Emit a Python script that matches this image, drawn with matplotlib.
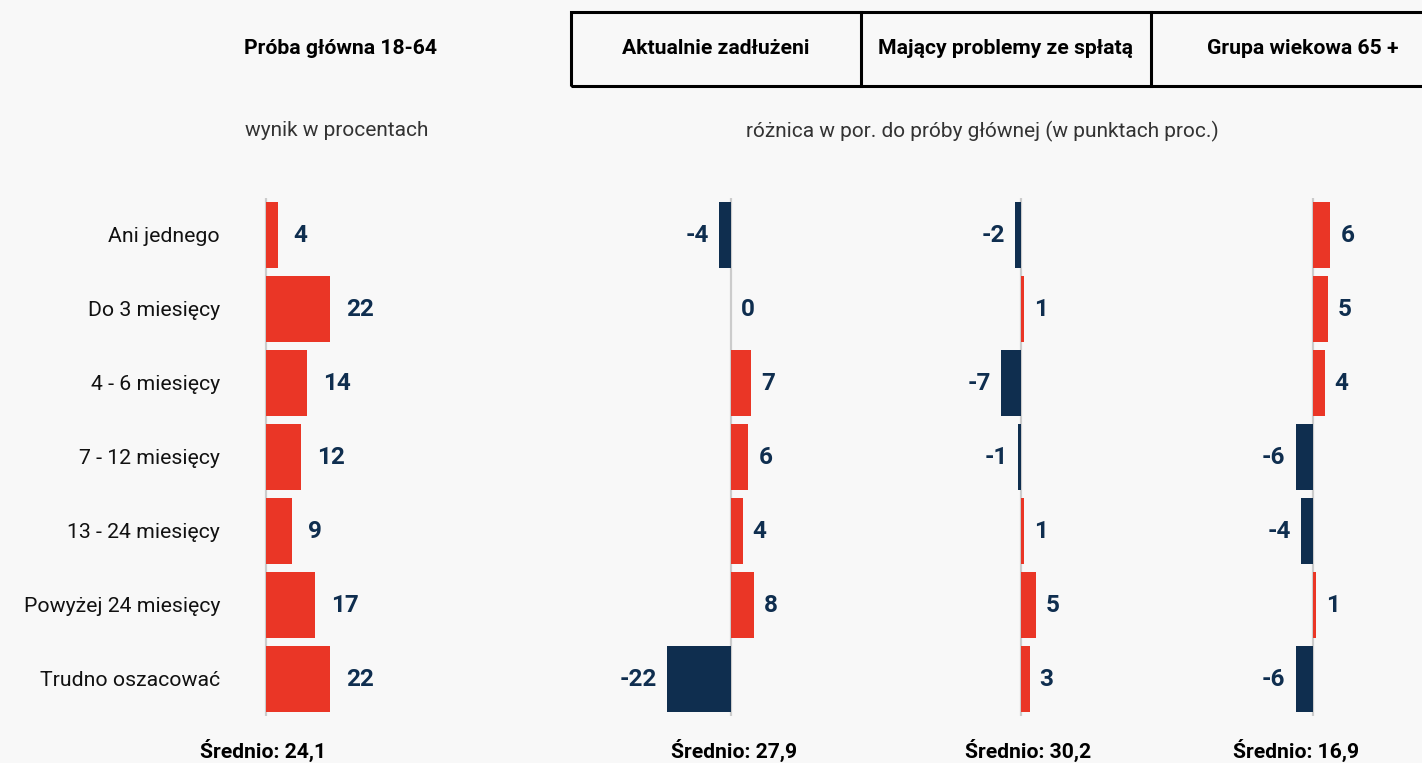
import numpy as np
import matplotlib.pyplot as plt
from matplotlib.patches import Rectangle
from matplotlib.lines import Line2D

plt.rcParams['font.family'] = ['Roboto', 'DejaVu Sans']

# Data
categories = ['Ani jednego', 'Do 3 miesięcy', '4 - 6 miesięcy', '7 - 12 miesięcy',
              '13 - 24 miesięcy', 'Powyżej 24 miesięcy', 'Trudno oszacować']
main_pct = [4, 22, 14, 12, 9, 17, 22]
diff_zadluzeni = [-4, 0, 7, 6, 4, 8, -22]
diff_problemy = [-2, 1, -7, -1, 1, 5, 3]
diff_65 = [6, 5, 4, -6, -4, 1, -6]

headers = ['Próba główna 18-64', 'Aktualnie zadłużeni', 'Mający problemy ze spłatą', 'Grupa wiekowa 65 +']
averages = ['Średnio: 24,1', 'Średnio: 27,9', 'Średnio: 30,2', 'Średnio: 16,9']

RED = '#ea3626'
NAVY = '#0f2e4f'
BG = '#f8f8f8'
W, H = 1422, 763
SCALE = 2.9  # pixels per percentage point

fig = plt.figure(figsize=(W / 100, H / 100), dpi=100, facecolor=BG)


def fx(px):
    return px / W


def fy(py):
    return 1 - py / H


def panel(values, zero_px, left_px, right_px, label_off, show_cats=False):
    top, bottom = 198, 716
    ax = fig.add_axes([fx(left_px), fy(bottom), (right_px - left_px) / W, (bottom - top) / H])
    ax.set_facecolor('none')
    ax.set_xlim((left_px - zero_px) / SCALE, (right_px - zero_px) / SCALE)
    ax.set_ylim(len(values) - 0.5, -0.5)
    y = np.arange(len(values))
    colors = [RED if v > 0 else NAVY for v in values]
    ax.axvline(0, color='#cccccc', lw=1.6, zorder=0)
    ax.barh(y, values, height=66 / 74, color=colors, zorder=2)
    for i, v in enumerate(values):
        if v >= 0:
            ax.annotate(str(v), (v, i), xytext=(label_off, 0), textcoords='offset points',
                        ha='left', va='center', color=NAVY, fontsize=17.5, fontweight='bold')
        else:
            ax.annotate(str(v), (v, i), xytext=(-label_off, 0), textcoords='offset points',
                        ha='right', va='center', color=NAVY, fontsize=17.5, fontweight='bold')
    for s in ax.spines.values():
        s.set_visible(False)
    ax.set_xticks([])
    if show_cats:
        ax.set_yticks(y, categories)
        ax.tick_params(axis='y', length=0, pad=11.5, labelsize=15.3, labelcolor='#111111')
    else:
        ax.set_yticks([])
    return ax


panel(main_pct, 266, 236, 436, 11.5, show_cats=True)
panel(diff_zadluzeni, 731, 631, 831, 7.2)
panel(diff_problemy, 1021, 921, 1121, 7.2)
panel(diff_65, 1313, 1213, 1413, 7.2)

# header box
fig.add_artist(Rectangle((fx(571), fy(86)), fx(1460) - fx(571), fy(12) - fy(86),
                         transform=fig.transFigure, fill=False, ec='black', lw=2.2))
for xp in [861, 1151]:
    fig.add_artist(Line2D([fx(xp), fx(xp)], [fy(12), fy(86)], transform=fig.transFigure,
                          color='black', lw=2.2))

for xp, txt in zip([341, 716, 1006, 1303], headers):
    fig.text(fx(xp), fy(49), txt, ha='center', va='center', fontsize=15.2,
             fontweight='bold', color='black')

fig.text(fx(337), fy(131), 'wynik w procentach', ha='center', va='center',
         fontsize=15, color='#333333')
fig.text(fx(982), fy(131), 'różnica w por. do próby głównej (w punktach proc.)',
         ha='center', va='center', fontsize=15, color='#333333')

for xp, txt in zip([263, 734, 1028, 1296], averages):
    fig.text(fx(xp), fy(750), txt, ha='center', va='center', fontsize=15.2,
             fontweight='bold', color='black')

fig.savefig('out.png', dpi=100, facecolor=BG)
